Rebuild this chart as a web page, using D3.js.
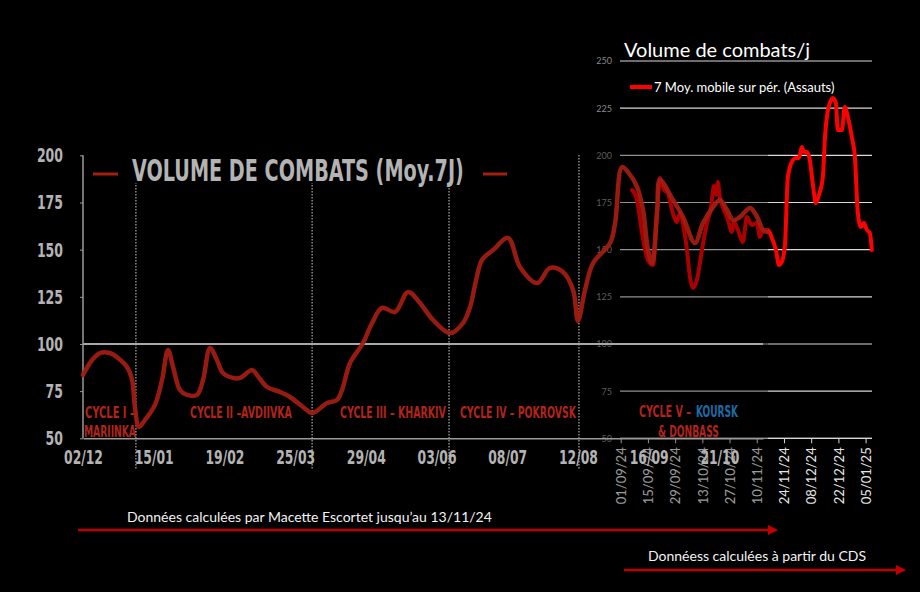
<!DOCTYPE html>
<html><head><meta charset="utf-8">
<script src="https://cdn.jsdelivr.net/npm/d3@7"></script>
<style>html,body{margin:0;padding:0;background:#000;}svg{display:block}</style>
</head><body><svg id="c" width="920" height="592"></svg>
<script>
// ---------- DATA ----------
const leftTickLabels = ["02/12","15/01","19/02","25/03","29/04","03/06","08/07","12/08","16/09","21/10"];
const leftTickDays = [0,35,70,105,140,175,210,245,280,315];
const leftYTicks = [50,75,100,125,150,175,200];
const leftSeries = [
 [0,83.6],[4.5,91.5],[8.4,95.2],[13.4,95.2],[17.3,92.6],[21.8,87.8],[24.3,80.9],[25.7,66.6],[27.7,56],
 [30.7,59.7],[35.6,67.7],[39.1,80.9],[42.1,96.8],[44.6,87.8],[48,75.6],[51.5,73],[56.4,73],[59.4,80.9],
 [62.9,97.9],[66.3,91.5],[69.3,84.6],[74.3,82],[77.7,82],[83.7,86.2],[86.1,83.6],[91.1,77.2],[97.5,74.6],
 [102.5,71.9],[108.9,66.6],[113.4,63.4],[120.8,68.7],[125.7,70.3],[128.2,75.6],[132.2,89.9],[138.6,100.5],
 [143.1,111.1],[148,119.1],[154.5,117],[160.9,127.6],[166.8,121.7],[173.3,112.7],[181.7,105.8],[188.1,111.1],
 [191.6,119.6],[194.6,133.9],[197.5,144.5],[203,149.8],[210.4,156.2],[216.3,140.8],[224.8,132.3],[231.2,140.3],
 [237.6,138.2],[242.6,128.6],[245,112.2],[248.5,128.6],[252.5,142.9],[260.9,153.5],[263.4,164.1],[266.8,193.8],
 [269.8,191.1],[274.3,183.2],[277.2,171],[279.7,149.8],[281.7,142.9],[284.2,171],[285.6,186.9],[292.1,176.3],
 [297,167.3],[302.9,153.5],[306.9,164.1],[311.9,172.6],[315.3,176.3],[318.8,171],[321.8,165.7],[325.2,167.3],
 [330.2,172.1],[333.7,167.3],[336.6,160.4],[338.6,159.4]
];
const cycleBoundaryDays = [26.2,113.4,181.2,245.5];

const rightTickLabels = ["01/09/24","15/09/24","29/09/24","13/10/24","27/10/24","10/11/24","24/11/24","08/12/24","22/12/24","05/01/25"];
const rightTickDays = [0,14,28,42,56,70,84,98,112,126];
const rightYTicks = [50,75,100,125,150,175,200,225,250];
const rightSeries = [
 [5.8,181.6],[8.4,176.3],[11,158.8],[14,144.5],[16.6,141.9],[18.7,168.4],[20.2,188],[22.3,181.6],[24.3,180],
 [26.4,171],[29,164.7],[30.5,169.4],[32.6,160.4],[34.1,149.8],[35.6,135.5],[37.2,129.7],[39.2,133.9],[41.8,149.8],
 [44.4,164.1],[46.4,172],[48,183.7],[49,179],[50,185.9],[51,177.9],[52.6,172.6],[55.2,165.7],[57.2,159.4],
 [58.3,164.7],[60.3,160.4],[62.9,154.1],[64.9,167.3],[67.5,163.1],[70.1,164.1],[71.6,156.7],[73.2,160.4],
 [75.7,160.4],[77.8,156.2],[79.9,149.8],[81.4,141.9],[82.9,143.5],[84.5,152.5],[86,188.5],[88.6,197.5],
 [90.1,198.6],[91.7,198.6],[93.2,204.4],[94.3,201.7],[95.8,201.7],[97.3,197.5],[98.9,184.3],[100.4,174.7],
 [102,179],[104,188.5],[105.1,209.7],[106.6,224],[107.6,227.7],[109.2,230.4],[110.7,227.7],[111.7,213.4],
 [113.8,213.4],[115.3,225.6],[116.9,220.3],[118.9,209.7],[120.5,199.1],[122,169.4],[123.6,162],[125.1,164.1],
 [126.7,160.4],[128.2,158.8],[129.2,149.8]
];

// ---------- DRAW ----------
const svg = d3.select("#c");
svg.append("rect").attr("width",920).attr("height",592).attr("fill","#000");

const y = d3.scaleLinear().domain([50,250]).range([438.3,61]);
const xL = d3.scaleLinear().domain([0,336.6]).range([83,763]);
const xR = d3.scaleLinear().domain([0,129.6]).range([620.7,872.6]);

const narrow = "'DejaVu Sans Condensed','DejaVu Sans',sans-serif";
const human = "Lato,'Open Sans',sans-serif";

// squeeze a text horizontally to a given width, keeping its anchor point
function fitW(sel, wf) {
  sel.each(function(d,i){
    const t = d3.select(this);
    const n = this.getComputedTextLength();
    const w = typeof wf === "function" ? wf.call(this,d,i) : wf;
    const s = w / n;
    const x = +t.attr("x") || 0;
    t.attr("transform", `translate(${x*(1-s)},0) scale(${s},1)`);
  });
}

// ---- right chart ----
const R = svg.append("g");
R.append("text").attr("x",624).attr("y",57).attr("fill","#fff")
 .attr("font-family",human).attr("font-size",20).text("Volume de combats/j");
R.selectAll("line.grid").data(rightYTicks).join("line").attr("class","grid")
 .attr("x1",620).attr("x2",872).attr("y1",d=>y(d)).attr("y2",d=>y(d))
 .attr("stroke","#d9d9d9").attr("stroke-width",1.2);
const ryAxis = d3.axisLeft(y).tickValues(rightYTicks).tickSize(0).tickPadding(0);
R.append("g").attr("transform","translate(612,0)").call(ryAxis)
 .call(g=>g.select(".domain").remove())
 .call(g=>g.selectAll("text").attr("fill","#8a8a8a").attr("font-family",human).attr("font-size",9));
const rxAxis = d3.axisBottom(xR).tickValues(rightTickDays).tickFormat((d,i)=>rightTickLabels[i]).tickSize(5);
R.append("g").attr("transform","translate(0,438.3)").call(rxAxis)
 .call(g=>g.select(".domain").attr("stroke","#d9d9d9").attr("d","M620,0H872"))
 .call(g=>g.selectAll(".tick line").attr("stroke","#d9d9d9"))
 .call(g=>g.selectAll("text").attr("fill","#e6e6e6").attr("font-family",human).attr("font-size",13)
   .attr("transform","rotate(-90)").attr("text-anchor","end").attr("x",-9).attr("y",0).attr("dy","0.36em"));
R.append("line").attr("x1",630).attr("x2",652).attr("y1",87).attr("y2",87).attr("stroke","#ff0000").attr("stroke-width",4);
R.append("text").attr("x",654).attr("y",92).attr("fill","#fff").attr("font-family",human).attr("font-size",13)
 .text("7 Moy. mobile sur pér. (Assauts)");
const lineR = d3.line().x(d=>xR(d[0])).y(d=>y(d[1])).curve(d3.curveMonotoneX);
R.append("path").datum(rightSeries).attr("d",lineR).attr("fill","none").attr("stroke","#ff0000")
 .attr("stroke-width",4).attr("stroke-linejoin","round").attr("stroke-linecap","round");

// overlay (left image dims the right chart)
svg.append("rect").attr("x",0).attr("y",140).attr("width",768).attr("height",368).attr("fill","#000").attr("opacity",0.33);

// ---- left chart ----
const L = svg.append("g");
L.selectAll("line.cyc").data(cycleBoundaryDays).join("line").attr("class","cyc")
 .attr("x1",d=>xL(d)).attr("x2",d=>xL(d)).attr("y1",155).attr("y2",470)
 .attr("stroke","#d0d0d0").attr("stroke-width",1).attr("stroke-dasharray","1.5,1.5");
L.append("line").attr("x1",83).attr("x2",763).attr("y1",y(100)).attr("y2",y(100)).attr("stroke","#a8a8a8").attr("stroke-width",2);
const lyAxis = d3.axisLeft(y).tickValues(leftYTicks).tickSize(3).tickPadding(17);
L.append("g").attr("transform","translate(83,0)").call(lyAxis)
 .call(g=>g.select(".domain").attr("stroke","#9a9a9a").attr("stroke-width",1.5).attr("d","M0,"+y(200)+"V"+y(50)))
 .call(g=>g.selectAll(".tick line").attr("stroke","#9a9a9a"))
 .call(g=>g.selectAll("text").attr("fill","#b3b3b3").attr("font-family",narrow).attr("font-weight","bold")
   .attr("font-size",20).attr("x",-20).attr("text-anchor","end").call(fitW,function(d){return String(d).length*8.7;}));
const lxAxis = d3.axisBottom(xL).tickValues(leftTickDays).tickFormat((d,i)=>leftTickLabels[i]).tickSize(0).tickPadding(12);
L.append("g").attr("transform","translate(0,"+y(50)+")").call(lxAxis)
 .call(g=>g.select(".domain").attr("stroke","#9a9a9a").attr("stroke-width",1.5))
 .call(g=>g.selectAll("text").attr("fill","#b3b3b3").attr("font-family",narrow).attr("font-weight","bold")
   .attr("font-size",20).call(fitW,39));
// title
L.append("rect").attr("x",124).attr("y",148).attr("width",348).attr("height",35).attr("fill","#000");
L.append("text").attr("x",132).attr("y",181).attr("fill","#b3b3b3").attr("font-family",narrow).attr("font-weight","bold")
 .attr("font-size",30).text("VOLUME DE COMBATS (Moy.7J)").call(fitW,332);
L.selectAll("line.leg").data([[93,118],[483,507]]).join("line").attr("class","leg")
 .attr("x1",d=>d[0]).attr("x2",d=>d[1]).attr("y1",174).attr("y2",174).attr("stroke","#a3200f").attr("stroke-width",3);
// series
const lineL = d3.line().x(d=>xL(d[0])).y(d=>y(d[1])).curve(d3.curveCatmullRom.alpha(0.5));
L.append("path").datum(leftSeries).attr("d",lineL).attr("fill","none").attr("stroke","#a51d12")
 .attr("stroke-width",4.5).attr("stroke-linejoin","round").attr("stroke-linecap","round").attr("opacity",0.92);
// cycle labels
const red = "#b0241a";
const cyc = [
 {t:"CYCLE I –",x:85,y:418,w:50},{t:"MARIINKA",x:84,y:437,w:52},
 {t:"CYCLE II –AVDIIVKA",x:190,y:418,w:102},{t:"CYCLE III – KHARKIV",x:340,y:418,w:106},
 {t:"CYCLE IV – POKROVSK",x:460,y:418,w:116},{t:"CYCLE V –",x:639,y:417,w:52},
 {t:"& DONBASS",x:658,y:437,w:61}
];
L.selectAll("text.cyc").data(cyc).join("text").attr("class","cyc")
 .attr("x",d=>d.x).attr("y",d=>d.y).attr("fill",red).attr("font-family",narrow).attr("font-weight","bold")
 .attr("font-size",15).text(d=>d.t).call(fitW,d=>d.w);
L.append("text").attr("x",696).attr("y",417).attr("fill","#1f6aa5").attr("font-family",narrow).attr("font-weight","bold")
 .attr("font-size",15).text("KOURSK").call(fitW,42);

// ---- bottom annotations ----
const defs = svg.append("defs");
defs.append("marker").attr("id","ah").attr("viewBox","0 0 10 10").attr("refX",8).attr("refY",5)
 .attr("markerWidth",4).attr("markerHeight",4).attr("orient","auto")
 .append("path").attr("d","M0,0L10,5L0,10Z").attr("fill","#c00000");
svg.append("line").attr("x1",78).attr("x2",776).attr("y1",530).attr("y2",530).attr("stroke","#c00000")
 .attr("stroke-width",2.5).attr("marker-end","url(#ah)");
svg.append("line").attr("x1",624).attr("x2",904).attr("y1",570).attr("y2",570).attr("stroke","#c00000")
 .attr("stroke-width",2.5).attr("marker-end","url(#ah)");
svg.append("text").attr("x",127).attr("y",522).attr("fill","#f2f2f2").attr("font-family",human).attr("font-size",14)
 .text("Données calculées par Macette Escortet jusqu’au 13/11/24");
svg.append("text").attr("x",648).attr("y",561).attr("fill","#f2f2f2").attr("font-family",human).attr("font-size",14)
 .text("Donnéess calculées à partir du CDS");
</script></body></html>
